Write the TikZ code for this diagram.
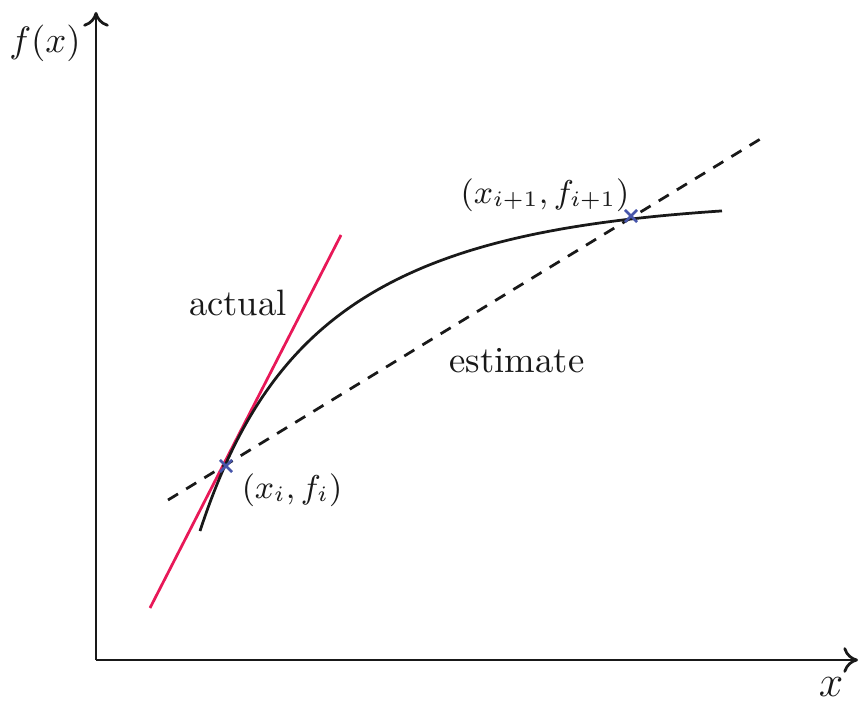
\documentclass[tikz,border=0pt]{standalone}
\usetikzlibrary{arrows.meta,shapes.misc}
\definecolor{actualred}{RGB}{232,24,88}
\definecolor{markblue}{RGB}{70,85,170}
\definecolor{ink}{RGB}{25,25,25}
\begin{document}
\begin{tikzpicture}[x=0.2725pt,y=-0.2725pt,
  axis/.style={draw=ink,line width=0.75pt,-{To[length=4pt,width=7pt]}},
  curve/.style={draw=ink,line width=0.75pt},
  est/.style={draw=ink,line width=0.75pt,dash pattern=on 3.2pt off 2.6pt},
  act/.style={draw=actualred,line width=0.75pt},
  xmark/.style={cross out,draw=markblue,line width=0.7pt,minimum size=2.6pt,inner sep=0pt},
  lbl/.style={text=ink,inner sep=0pt},
  ptlbl/.style={lbl,font=\fontsize{9.2}{11}\selectfont}]
\useasboundingbox (0,0) rectangle (860,706);
% axes
\coordinate (O) at (96,660);
\coordinate (ytop) at (96,12);
\coordinate (xend) at (858,660);
\draw[axis] (O) -- (ytop);
\draw[axis] (O) -- (xend);
\node[lbl] (ylab) at (45,43) {$f(x)$};
\node[lbl,font=\fontsize{13}{15}\selectfont] (xlab) at (831,687) {$x$};
% tangent (actual)
\coordinate (a1) at (150,608);
\coordinate (a2) at (341,235);
\draw[act] (a1) -- (a2);
% secant (estimate)
\coordinate (e1) at (168,500);
\coordinate (e2) at (762,138);
\draw[est] (e1) -- (e2);
% curve
\draw[curve] plot[domain=0:522,samples=150,smooth]
  ({200+\x},{531-76.5*(1-exp(-0.02*\x))-254.7*(1-exp(-0.006*\x))});
% points
\node[xmark] (pi) at (226,466) {};
\node[xmark] (pj) at (631,216) {};
% labels
\node[ptlbl] (li) at (292,490) {$(x_i,f_i)$};
\node[ptlbl] (lj) at (545,195) {$(x_{i+1},f_{i+1})$};
\node[lbl] (lact) at (238,303) {actual};
\node[lbl] (lest) at (517,361) {estimate};
\end{tikzpicture}
\end{document}
